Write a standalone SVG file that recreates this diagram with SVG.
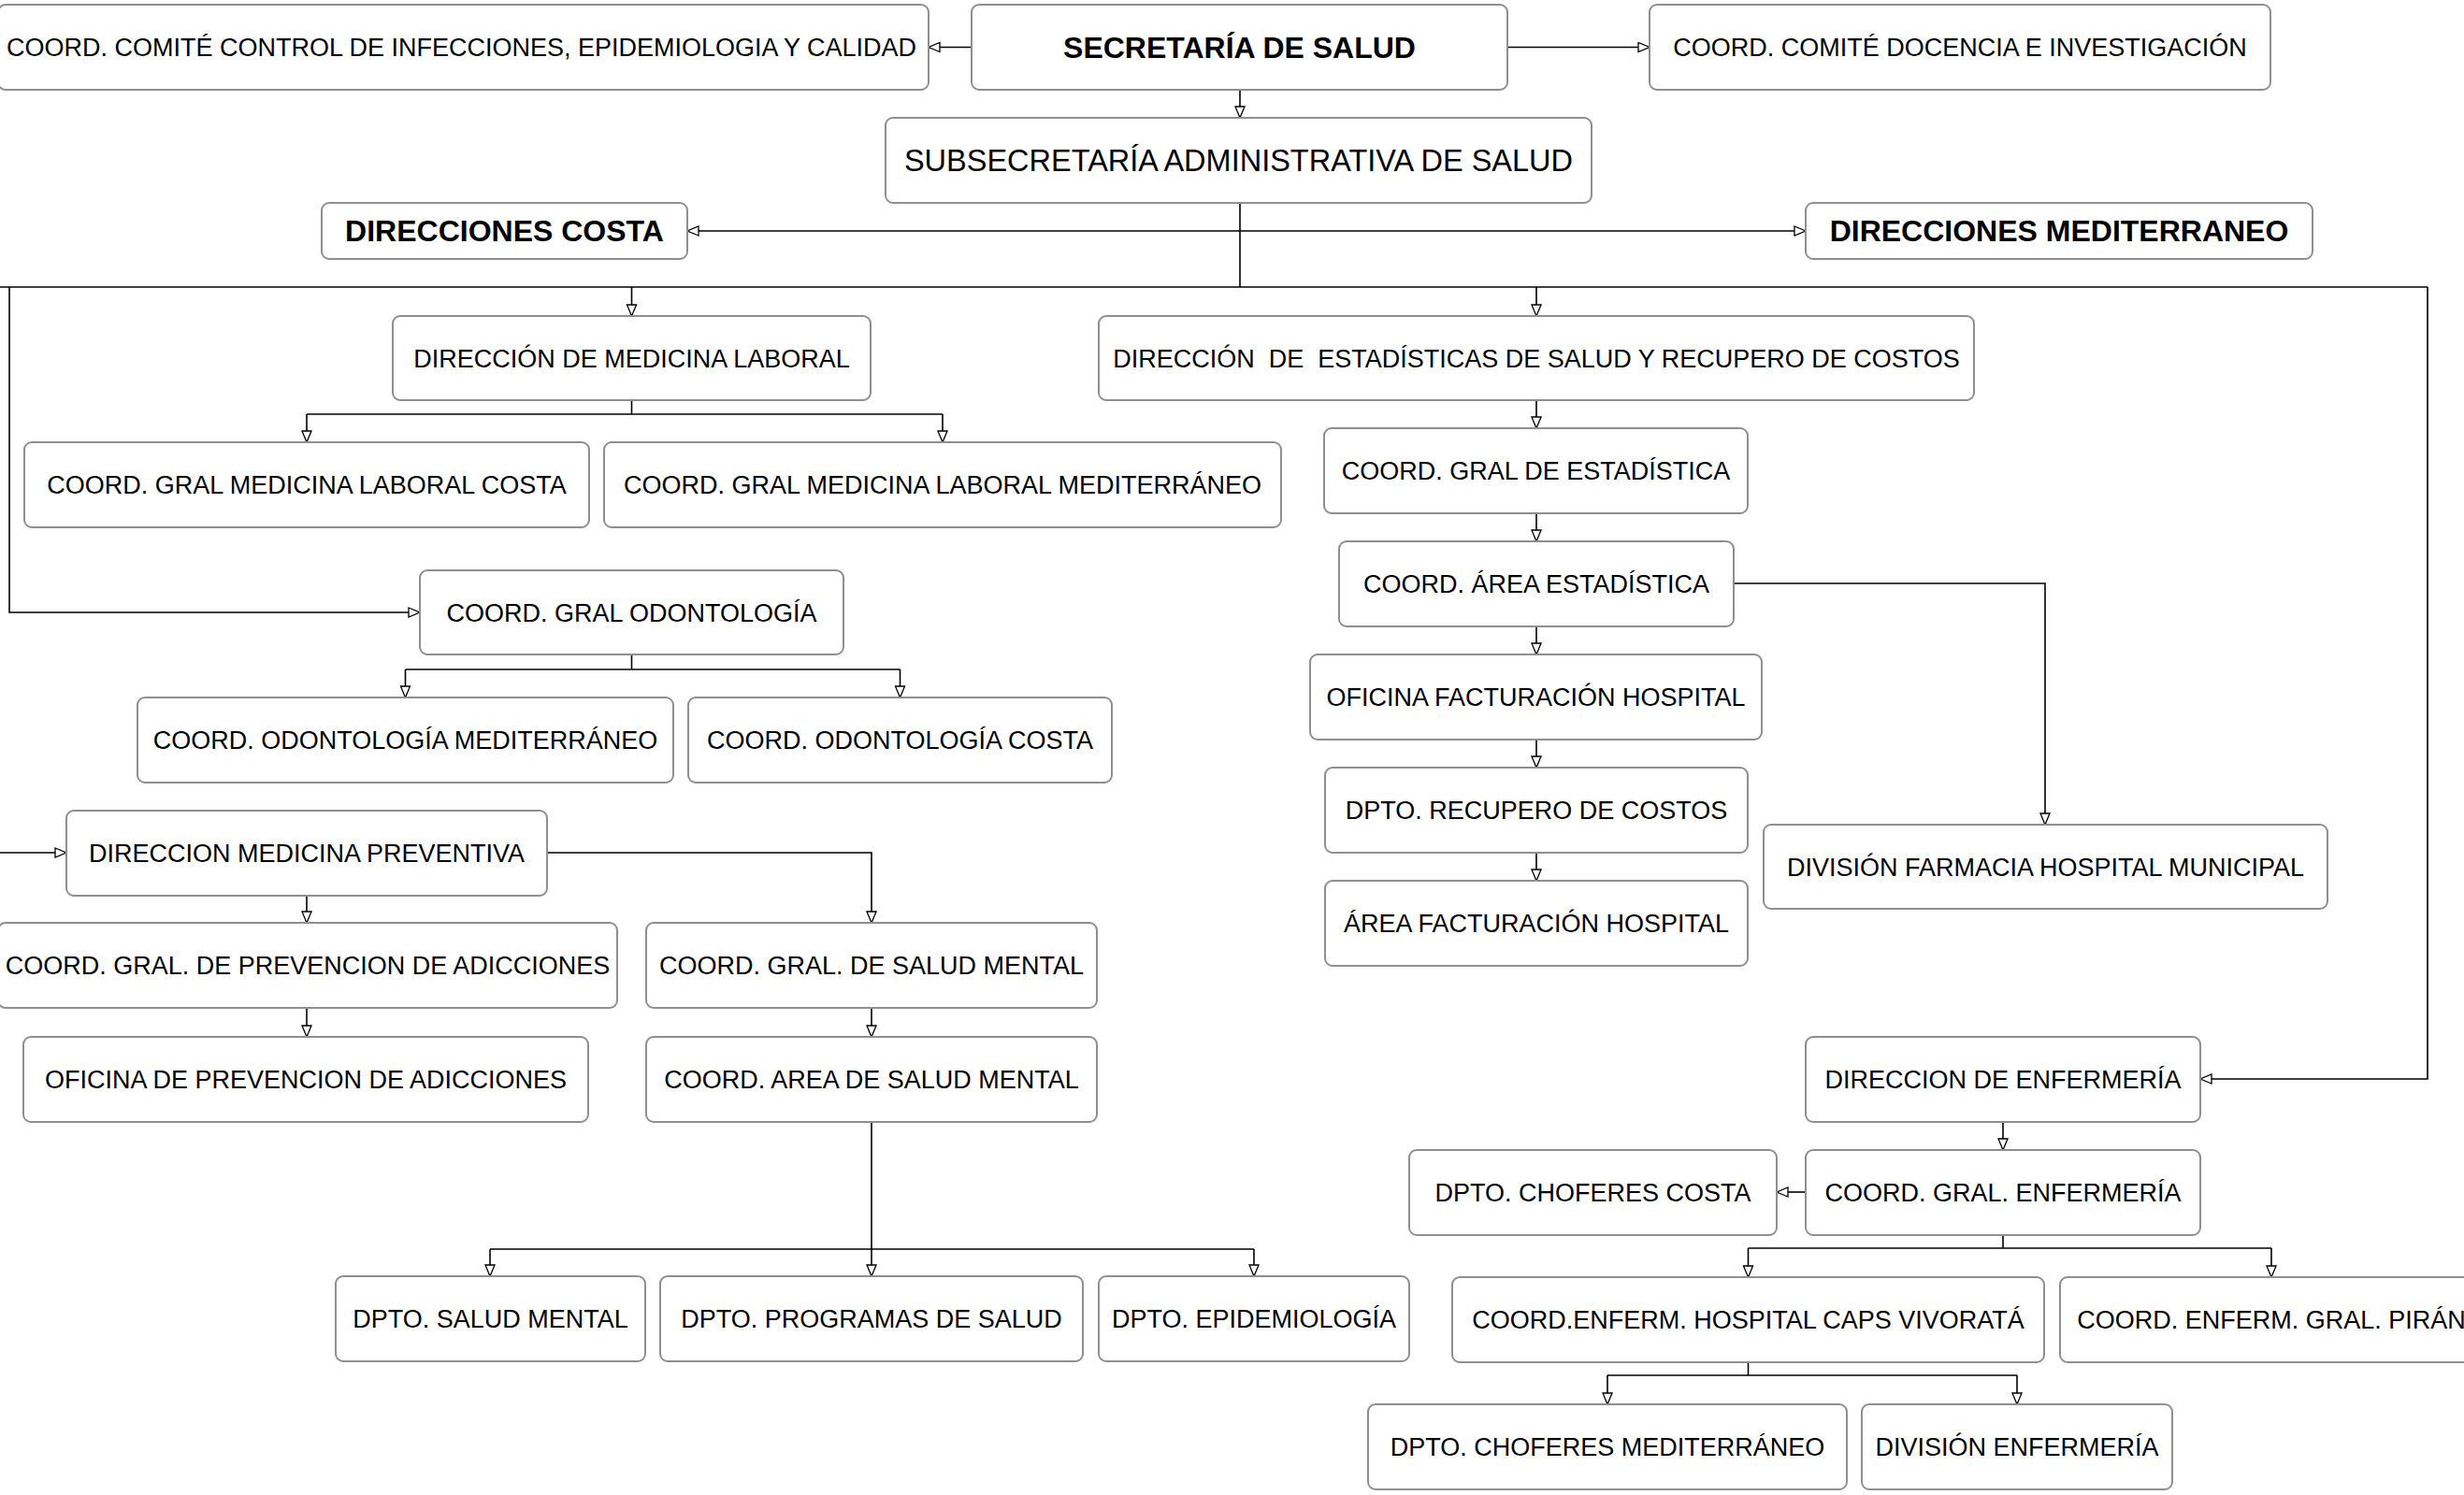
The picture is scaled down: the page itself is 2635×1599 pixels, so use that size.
<svg xmlns="http://www.w3.org/2000/svg" width="2635" height="1599" viewBox="0 0 2635 1599">
<style>
.box{fill:#fff;stroke:#8f8f8f;stroke-width:2}
.t{font-family:"Liberation Sans",Arial,sans-serif;font-size:27px;fill:#000;text-anchor:middle;white-space:pre}
.b{font-size:32px;font-weight:bold}
.l{font-size:32.5px}
.c{fill:none;stroke:#000;stroke-width:1.6}
</style>
<defs>
<marker id="ah" markerUnits="userSpaceOnUse" markerWidth="15" markerHeight="13" refX="13" refY="6" orient="auto">
<path d="M1,1 L13,6 L1,11 Z" fill="#fff" stroke="#000" stroke-width="1.3"/>
</marker>
</defs>
<rect width="2635" height="1599" fill="#fff"/>
<g id="connectors">
<path class="c" d="M1039,50.5 H993" marker-end="url(#ah)"/>
<path class="c" d="M1612,50.5 H1764" marker-end="url(#ah)"/>
<path class="c" d="M1326,96 V126" marker-end="url(#ah)"/>
<path class="c" d="M1326,217 V307"/>
<path class="c" d="M1326,247 H735" marker-end="url(#ah)"/>
<path class="c" d="M1326,247 H1931" marker-end="url(#ah)"/>
<path class="c" d="M-5,307 H2596"/>
<path class="c" d="M10,307 V655 H449" marker-end="url(#ah)"/>
<path class="c" d="M675.5,307 V338" marker-end="url(#ah)"/>
<path class="c" d="M1643,307 V338" marker-end="url(#ah)"/>
<path class="c" d="M2596,307 V1154 H2353" marker-end="url(#ah)"/>
<path class="c" d="M675.5,428 V443"/>
<path class="c" d="M328,443 H1008"/>
<path class="c" d="M328,443 V473" marker-end="url(#ah)"/>
<path class="c" d="M1008,443 V473" marker-end="url(#ah)"/>
<path class="c" d="M1643,428 V458" marker-end="url(#ah)"/>
<path class="c" d="M1643,549 V579" marker-end="url(#ah)"/>
<path class="c" d="M1643,670 V700" marker-end="url(#ah)"/>
<path class="c" d="M1643,791 V821" marker-end="url(#ah)"/>
<path class="c" d="M1643,912 V942" marker-end="url(#ah)"/>
<path class="c" d="M1854,624 H2187 V882" marker-end="url(#ah)"/>
<path class="c" d="M675.5,700 V716"/>
<path class="c" d="M433.5,716 H962.5"/>
<path class="c" d="M433.5,716 V746" marker-end="url(#ah)"/>
<path class="c" d="M962.5,716 V746" marker-end="url(#ah)"/>
<path class="c" d="M-5,912 H71" marker-end="url(#ah)"/>
<path class="c" d="M585,912 H932 V987" marker-end="url(#ah)"/>
<path class="c" d="M328,958 V987" marker-end="url(#ah)"/>
<path class="c" d="M328,1078 V1109" marker-end="url(#ah)"/>
<path class="c" d="M932,1078 V1109" marker-end="url(#ah)"/>
<path class="c" d="M932,1200 V1365" marker-end="url(#ah)"/>
<path class="c" d="M524,1336 H1341"/>
<path class="c" d="M524,1336 V1365" marker-end="url(#ah)"/>
<path class="c" d="M1341,1336 V1365" marker-end="url(#ah)"/>
<path class="c" d="M2142,1200 V1230" marker-end="url(#ah)"/>
<path class="c" d="M1931,1275 H1900" marker-end="url(#ah)"/>
<path class="c" d="M2142,1321 V1335"/>
<path class="c" d="M1869.5,1335 H2429"/>
<path class="c" d="M1869.5,1335 V1366" marker-end="url(#ah)"/>
<path class="c" d="M2429,1335 V1366" marker-end="url(#ah)"/>
<path class="c" d="M1869.5,1457 V1471"/>
<path class="c" d="M1719,1471 H2157"/>
<path class="c" d="M1719,1471 V1502" marker-end="url(#ah)"/>
<path class="c" d="M2157,1471 V1502" marker-end="url(#ah)"/>
</g>
<g id="n_comite_control"><rect class="box" x="-2" y="5" width="995" height="91" rx="8"/><text class="t" x="493.5" y="60">COORD. COMITÉ CONTROL DE INFECCIONES, EPIDEMIOLOGIA Y CALIDAD</text></g>
<g id="n_secretaria"><rect class="box" x="1039" y="5" width="573" height="91" rx="8"/><text class="t b" x="1325.5" y="62">SECRETARÍA DE SALUD</text></g>
<g id="n_docencia"><rect class="box" x="1764" y="5" width="664" height="91" rx="8"/><text class="t" x="2096" y="60">COORD. COMITÉ DOCENCIA E INVESTIGACIÓN</text></g>
<g id="n_subsecretaria"><rect class="box" x="947" y="126" width="755" height="91" rx="8"/><text class="t l" x="1324.5" y="183">SUBSECRETARÍA ADMINISTRATIVA DE SALUD</text></g>
<g id="n_dir_costa"><rect class="box" x="344" y="217" width="391" height="60" rx="8"/><text class="t b" x="539.5" y="258">DIRECCIONES COSTA</text></g>
<g id="n_dir_mediterraneo"><rect class="box" x="1931" y="217" width="542" height="60" rx="8"/><text class="t b" x="2202" y="258">DIRECCIONES MEDITERRANEO</text></g>
<g id="n_med_laboral"><rect class="box" x="420" y="338" width="511" height="90" rx="8"/><text class="t" x="675.5" y="392.5">DIRECCIÓN DE MEDICINA LABORAL</text></g>
<g id="n_estadisticas"><rect class="box" x="1175" y="338" width="936" height="90" rx="8"/><text class="t" x="1643" y="392.5">DIRECCIÓN  DE  ESTADÍSTICAS DE SALUD Y RECUPERO DE COSTOS</text></g>
<g id="n_ml_costa"><rect class="box" x="26" y="473" width="604" height="91" rx="8"/><text class="t" x="328" y="528">COORD. GRAL MEDICINA LABORAL COSTA</text></g>
<g id="n_ml_medit"><rect class="box" x="646" y="473" width="724" height="91" rx="8"/><text class="t" x="1008" y="528">COORD. GRAL MEDICINA LABORAL MEDITERRÁNEO</text></g>
<g id="n_gral_estadistica"><rect class="box" x="1416" y="458" width="453" height="91" rx="8"/><text class="t" x="1642.5" y="513">COORD. GRAL DE ESTADÍSTICA</text></g>
<g id="n_area_estadistica"><rect class="box" x="1432" y="579" width="422" height="91" rx="8"/><text class="t" x="1643" y="634">COORD. ÁREA ESTADÍSTICA</text></g>
<g id="n_odontologia"><rect class="box" x="449" y="610" width="453" height="90" rx="8"/><text class="t" x="675.5" y="664.5">COORD. GRAL ODONTOLOGÍA</text></g>
<g id="n_odo_medit"><rect class="box" x="147" y="746" width="573" height="91" rx="8"/><text class="t" x="433.5" y="801">COORD. ODONTOLOGÍA MEDITERRÁNEO</text></g>
<g id="n_odo_costa"><rect class="box" x="736" y="746" width="453" height="91" rx="8"/><text class="t" x="962.5" y="801">COORD. ODONTOLOGÍA COSTA</text></g>
<g id="n_oficina_fact"><rect class="box" x="1401" y="700" width="483" height="91" rx="8"/><text class="t" x="1642.5" y="755">OFICINA FACTURACIÓN HOSPITAL</text></g>
<g id="n_recupero"><rect class="box" x="1417" y="821" width="452" height="91" rx="8"/><text class="t" x="1643" y="876">DPTO. RECUPERO DE COSTOS</text></g>
<g id="n_area_fact"><rect class="box" x="1417" y="942" width="452" height="91" rx="8"/><text class="t" x="1643" y="997">ÁREA FACTURACIÓN HOSPITAL</text></g>
<g id="n_farmacia"><rect class="box" x="1886" y="882" width="603" height="90" rx="8"/><text class="t" x="2187.5" y="936.5">DIVISIÓN FARMACIA HOSPITAL MUNICIPAL</text></g>
<g id="n_med_preventiva"><rect class="box" x="71" y="867" width="514" height="91" rx="8"/><text class="t" x="328" y="922">DIRECCION MEDICINA PREVENTIVA</text></g>
<g id="n_prev_adicciones"><rect class="box" x="-2" y="987" width="662" height="91" rx="8"/><text class="t" x="329" y="1042">COORD. GRAL. DE PREVENCION DE ADICCIONES</text></g>
<g id="n_gral_salud_mental"><rect class="box" x="691" y="987" width="482" height="91" rx="8"/><text class="t" x="932" y="1042">COORD. GRAL. DE SALUD MENTAL</text></g>
<g id="n_oficina_adicciones"><rect class="box" x="25" y="1109" width="604" height="91" rx="8"/><text class="t" x="327" y="1164">OFICINA DE PREVENCION DE ADICCIONES</text></g>
<g id="n_area_salud_mental"><rect class="box" x="691" y="1109" width="482" height="91" rx="8"/><text class="t" x="932" y="1164">COORD. AREA DE SALUD MENTAL</text></g>
<g id="n_dpto_salud_mental"><rect class="box" x="359" y="1365" width="331" height="91" rx="8"/><text class="t" x="524.5" y="1420">DPTO. SALUD MENTAL</text></g>
<g id="n_programas"><rect class="box" x="706" y="1365" width="452" height="91" rx="8"/><text class="t" x="932" y="1420">DPTO. PROGRAMAS DE SALUD</text></g>
<g id="n_epidemiologia"><rect class="box" x="1175" y="1365" width="332" height="91" rx="8"/><text class="t" x="1341" y="1420">DPTO. EPIDEMIOLOGÍA</text></g>
<g id="n_dir_enfermeria"><rect class="box" x="1931" y="1109" width="422" height="91" rx="8"/><text class="t" x="2142" y="1164">DIRECCION DE ENFERMERÍA</text></g>
<g id="n_gral_enfermeria"><rect class="box" x="1931" y="1230" width="422" height="91" rx="8"/><text class="t" x="2142" y="1285">COORD. GRAL. ENFERMERÍA</text></g>
<g id="n_choferes_costa"><rect class="box" x="1507" y="1230" width="393" height="91" rx="8"/><text class="t" x="1703.5" y="1285">DPTO. CHOFERES COSTA</text></g>
<g id="n_vivorata"><rect class="box" x="1553" y="1366" width="633" height="91" rx="8"/><text class="t" x="1869.5" y="1421">COORD.ENFERM. HOSPITAL CAPS VIVORATÁ</text></g>
<g id="n_piran"><rect class="box" x="2203" y="1366" width="452" height="91" rx="8"/><text class="t" x="2429" y="1421">COORD. ENFERM. GRAL. PIRÁN</text></g>
<g id="n_choferes_medit"><rect class="box" x="1463" y="1502" width="512" height="91" rx="8"/><text class="t" x="1719" y="1557">DPTO. CHOFERES MEDITERRÁNEO</text></g>
<g id="n_div_enfermeria"><rect class="box" x="1991" y="1502" width="332" height="91" rx="8"/><text class="t" x="2157" y="1557">DIVISIÓN ENFERMERÍA</text></g>
</svg>
